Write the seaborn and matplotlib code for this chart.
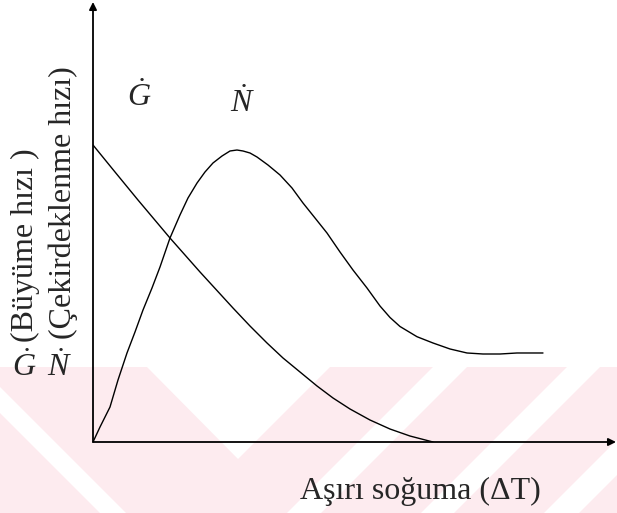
import matplotlib
matplotlib.use("Agg")
import matplotlib.pyplot as plt
from matplotlib.patches import Polygon
from matplotlib.transforms import IdentityTransform
import seaborn as sns
import pandas as pd

# Nucleation rate curve (N-dot) versus undercooling
n_x = [0, 1.34, 3.25, 4.78, 6.50, 8.03, 9.56, 11.28, 12.81, 14.72, 16.63, 18.16,
       19.89, 21.41, 22.94, 24.67, 26.2, 27.53, 28.68, 30.02, 31.36, 33.46, 35.76,
       38.05, 40.15, 42.45, 44.74, 47.23, 49.71, 52.39, 54.88, 56.79, 58.7, 61.95,
       65.01, 68.26, 71.51, 74.57, 77.82, 81.07, 86.04]
n_y = [0, 3.41, 7.95, 14.09, 20.23, 25.0, 30.0, 35.0, 39.77, 46.36, 51.59, 55.45,
       58.86, 61.36, 63.41, 65.0, 66.14, 66.36, 66.14, 65.68, 64.77, 62.95, 60.68,
       57.73, 54.32, 50.91, 47.5, 43.18, 39.09, 35.0, 30.9, 28.3, 26.25, 23.93,
       22.5, 21.14, 20.23, 20.0, 20.0, 20.23, 20.23]

# Growth rate curve (G-dot) versus undercooling
g_x = [0, 4.21, 8.6, 14.72, 20.46, 26.77, 30.02, 33.27, 36.33, 39.58, 42.83,
       45.89, 49.14, 52.96, 56.79, 60.61, 65.01]
g_y = [67.5, 61.36, 55.0, 46.36, 38.64, 30.45, 26.36, 22.5, 19.09, 15.91, 12.73,
       10.0, 7.5, 5.0, 2.95, 1.36, 0.0]

curve_labels = [r"$\dot{G}$", r"$\dot{N}$"]
x_label = "Aşırı soğuma (ΔT)"
y_label_g = "(Büyüme hızı )"
y_label_n = "(Çekirdeklenme hızı)"

sns.set_theme(style="white")
plt.rcParams["font.family"] = ["Liberation Serif", "DejaVu Serif"]
plt.rcParams["mathtext.fontset"] = "custom"
plt.rcParams["mathtext.rm"] = "Liberation Serif"
plt.rcParams["mathtext.it"] = "Liberation Serif:italic"

W, H = 617, 513
fig = plt.figure(figsize=(W / 100, H / 100), dpi=100, facecolor="white")

def px(x, y):
    return (x, H - y)

# faint watermark band behind the chart
pink = "#fdebef"
band = Polygon([px(0, 367), px(W, 367), px(W, H), px(0, H)], closed=True,
               transform=IdentityTransform(), facecolor=pink, edgecolor="none", zorder=-2)
fig.patches.append(band)
white_shapes = [
    [(147, 367), (330, 367), (238, 459)],
    [(0, 387), (0, 413), (100, 513), (126, 513)],
    [(433, 367), (467, 367), (321, 513), (287, 513)],
    [(567, 367), (600, 367), (454, 513), (421, 513)],
    [(690, 367), (725, 367), (579, 513), (544, 513)],
]
for shp in white_shapes:
    fig.patches.append(Polygon([px(*p) for p in shp], closed=True,
                               transform=IdentityTransform(), facecolor="white",
                               edgecolor="none", zorder=-1))

ax = fig.add_axes([93 / W, (H - 442) / H, (616 - 93) / W, (442 - 2) / H])
ax.set_facecolor("none")
ax.set_xlim(0, 100)
ax.set_ylim(0, 100)
for s in ax.spines.values():
    s.set_visible(False)
ax.set_xticks([])
ax.set_yticks([])

df_n = pd.DataFrame({"x": n_x, "y": n_y})
df_g = pd.DataFrame({"x": g_x, "y": g_y})
line_kw = dict(sort=False, estimator=None, color="black", lw=1.0, ax=ax)
sns.lineplot(data=df_n, x="x", y="y", **line_kw)
sns.lineplot(data=df_g, x="x", y="y", **line_kw)
for ln in ax.lines:
    ln.set_solid_joinstyle("round")
    ln.set_solid_capstyle("round")
ax.set_xlabel("")
ax.set_ylabel("")

# axes drawn as arrows
arrow = dict(arrowstyle="-|>", color="black", lw=1.3, mutation_scale=11,
             shrinkA=0, shrinkB=0)
ax.annotate("", xy=(1, 0), xytext=(0, 0), xycoords="axes fraction", arrowprops=arrow)
ax.annotate("", xy=(0, 1), xytext=(0, 0), xycoords="axes fraction", arrowprops=arrow)

fs = 23
# curve names
fig.text(127 / W, (H - 106) / H, curve_labels[0], fontsize=fs, ha="left", va="baseline")
fig.text(230 / W, (H - 112) / H, curve_labels[1], fontsize=fs, ha="left", va="baseline")

# x axis title
fig.text(420 / W, (H - 499) / H, x_label, fontsize=fs, ha="center", va="baseline")

# y axis titles: symbols upright, descriptions rotated
fig.text(12 / W, (H - 376) / H, curve_labels[0], fontsize=fs, ha="left", va="baseline")
fig.text(47 / W, (H - 376) / H, curve_labels[1], fontsize=fs, ha="left", va="baseline")
fig.text(33 / W, (H - 342) / H, y_label_g, fontsize=fs, rotation=90,
         rotation_mode="anchor", ha="left", va="baseline")
fig.text(71 / W, (H - 339) / H, y_label_n, fontsize=fs, rotation=90,
         rotation_mode="anchor", ha="left", va="baseline")

fig.savefig("out.png", dpi=100, facecolor="white")
